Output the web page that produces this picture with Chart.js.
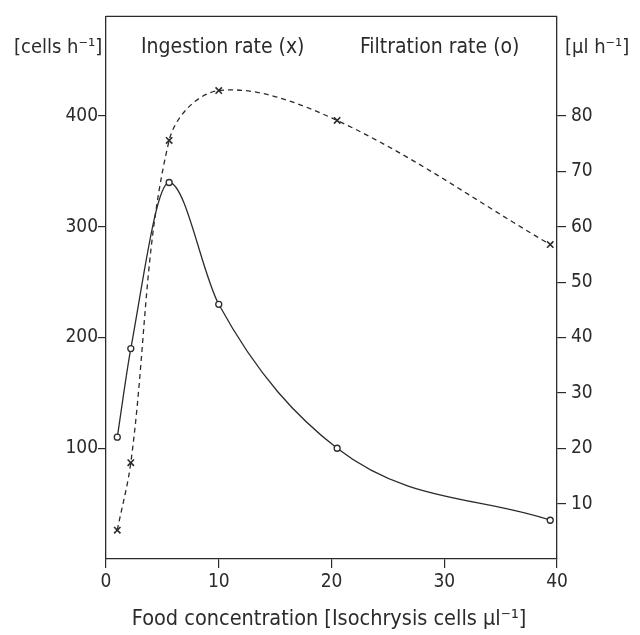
<!DOCTYPE html>
<html>
<head>
<meta charset="utf-8">
<script src="https://cdn.jsdelivr.net/npm/chart.js@4"></script>
<style>
  html, body { margin: 0; padding: 0; background: #fff; }
  #wrap { width: 640px; height: 635px; }
</style>
</head>
<body>
<div id="wrap"><canvas id="grafica" width="640" height="635"></canvas></div>
<script>
// food concentration, Isochrysis cells per µl
const foodConc = [1.0, 2.2, 5.6, 10.0, 20.5, 39.4];
// ingestion rate (x), cells per hour - left axis
const ingestion = [26, 87, 378, 423, 396, 284];
// filtration rate (o), µl per hour - right axis
const filtration = [22, 38, 68, 46, 20, 7];

const xTicks = [0, 10, 20, 30, 40];
const leftTicks = [100, 200, 300, 400];
const rightTicks = [10, 20, 30, 40, 50, 60, 70, 80];

const ink = '#2b2b2b';
const fam = '"DejaVu Sans Condensed", "Liberation Sans Narrow", "DejaVu Sans", sans-serif';

const textos = {
    id: 'textos',
    afterDraw(chart) {
        const ctx = chart.ctx;
        const a = chart.chartArea;
        ctx.save();
        // top frame line
        ctx.strokeStyle = ink;
        ctx.lineWidth = 1.3;
        ctx.beginPath();
        ctx.moveTo(a.left, a.top);
        ctx.lineTo(a.right, a.top);
        ctx.stroke();

        ctx.fillStyle = ink;
        ctx.textBaseline = 'alphabetic';
        ctx.textAlign = 'left';
        ctx.font = '20px ' + fam;
        ctx.fillText('[cells h\u207B\u00B9]', 14, 53);
        ctx.fillText('[\u00B5l h\u207B\u00B9]', 565, 53);
        ctx.font = '21px ' + fam;
        ctx.fillText('Ingestion rate (x)', 141, 53);
        ctx.fillText('Filtration rate (o)', 360, 53);
        ctx.font = '21.5px ' + fam;
        ctx.textAlign = 'center';
        ctx.fillText('Food concentration [Isochrysis cells \u00B5l\u207B\u00B9]', 329, 625);
        ctx.restore();
    }
};

function eje(posicion, min, max, ticks, largo) {
    return {
        type: 'linear',
        position: posicion,
        min: min,
        max: max,
        afterBuildTicks: s => { s.ticks = ticks.map(v => ({ value: v })); },
        afterFit: s => {
            if (posicion === 'bottom') s.height = 76;
            else if (posicion === 'left') s.width = 106;
            else s.width = 83;
        },
        grid: {
            drawOnChartArea: false,
            drawTicks: true,
            tickLength: largo,
            color: ink,
            lineWidth: 1.2
        },
        border: { display: true, color: ink, width: 1.3 },
        ticks: {
            color: ink,
            padding: posicion === 'right' ? 5 : (posicion === 'left' ? 0 : 3),
            font: { family: fam, size: 19 },
            maxRotation: 0,
            autoSkip: false
        }
    };
}

new Chart(document.getElementById('grafica'), {
    type: 'line',
    data: {
        datasets: [
            {
                label: 'Ingestion rate',
                data: foodConc.map((x, i) => ({ x: x, y: ingestion[i] })),
                yAxisID: 'y',
                borderColor: ink,
                borderWidth: 1.3,
                borderDash: [5, 4],
                tension: 0.35,
                pointStyle: 'crossRot',
                pointRadius: 4.5,
                pointBorderWidth: 1.6,
                pointBorderColor: ink,
                pointBackgroundColor: ink,
                fill: false
            },
            {
                label: 'Filtration rate',
                data: foodConc.map((x, i) => ({ x: x, y: filtration[i] })),
                yAxisID: 'y1',
                borderColor: ink,
                borderWidth: 1.3,
                cubicInterpolationMode: 'monotone',
                pointStyle: 'circle',
                pointRadius: 3,
                pointBorderWidth: 1.3,
                pointBorderColor: ink,
                pointBackgroundColor: '#fff',
                fill: false
            }
        ]
    },
    options: {
        responsive: false,
        animation: false,
        layout: { padding: { top: 8, left: 0, right: 0, bottom: 0 } },
        plugins: {
            legend: false,
            tooltip: { enabled: false }
        },
        scales: {
            x: eje('bottom', 0, 40, xTicks, 9),
            y: eje('left', 0, 490, leftTicks, 8),
            y1: eje('right', 0, 98, rightTicks, 9)
        }
    },
    plugins: [textos]
});
</script>
</body>
</html>
